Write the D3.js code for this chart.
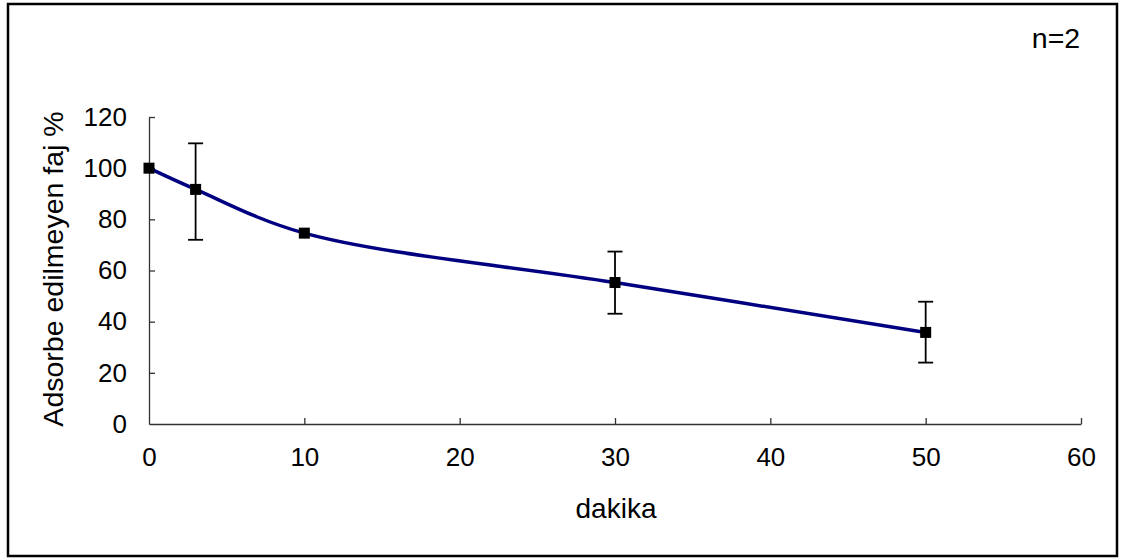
<!DOCTYPE html>
<html lang="tr">
<head>
<meta charset="UTF-8" />
<title>Adsorbe edilmeyen faj</title>
<style>
  body { margin: 0; background: #fff; }
  svg { display: block; font-family: 'Liberation Sans', Arial, sans-serif; }
  .tick text { font-size: 26px; fill: #000; }
</style>
</head>
<body>
<svg id="chart" width="1121" height="559"></svg>
<script src="https://cdn.jsdelivr.net/npm/d3@7/dist/d3.min.js"></script>
<script>
  // dakika (minutes) vs. % non-adsorbed phage, n=2
  const minutes = [0, 3, 10, 30, 50];
  const percent = [100, 91.7, 74.6, 55.3, 35.8];
  const errLow  = [null, 72, null, 43.1, 24];
  const errHigh = [null, 109.7, null, 67.4, 47.8];
  const xTicks = [0, 10, 20, 30, 40, 50, 60];
  const yTicks = [0, 20, 40, 60, 80, 100, 120];

  const svg = d3.select("#chart");

  // outer frame
  svg.append("rect")
    .attr("x", 8).attr("y", 4)
    .attr("width", 1109).attr("height", 552)
    .attr("fill", "#fff")
    .attr("stroke", "#000")
    .attr("stroke-width", 2.5);

  const x = d3.scaleLinear().domain([0, 60]).range([149, 1081]);
  const y = d3.scaleLinear().domain([0, 120]).range([424, 117]);

  const xAxis = svg.append("g")
    .attr("transform", `translate(0,${y(0)})`)
    .call(d3.axisBottom(x).tickValues(xTicks).tickSizeInner(-6).tickSizeOuter(0).tickPadding(24));
  const yAxis = svg.append("g")
    .attr("transform", `translate(${x(0)},0)`)
    .call(d3.axisLeft(y).tickValues(yTicks).tickSizeInner(-6).tickSizeOuter(0).tickPadding(22));

  [xAxis, yAxis].forEach(g => {
    g.select(".domain").attr("stroke", "#333").attr("stroke-width", 1.3);
    g.selectAll(".tick line").attr("stroke", "#333").attr("stroke-width", 1.3);
    g.selectAll(".tick text").attr("font-size", 26).attr("font-family", null);
  });
  xAxis.selectAll(".tick text").attr("dy", "0.71em");
  // drop the zero ticks that sit on the other axis
  xAxis.selectAll(".tick line").filter(d => d === 0).remove();
  yAxis.selectAll(".tick line").filter(d => d === 0).remove();

  const pts = minutes.map((m, i) => ({ m, p: percent[i], lo: errLow[i], hi: errHigh[i] }));

  // smoothed line
  svg.append("path")
    .datum(pts)
    .attr("fill", "none")
    .attr("stroke", "#000080")
    .attr("stroke-width", 3.5)
    .attr("d", d3.line().x(d => x(d.m)).y(d => y(d.p)).curve(d3.curveCatmullRom.alpha(0.5)));

  // error bars
  const eb = svg.append("g").attr("stroke", "#000").attr("stroke-width", 1.8);
  pts.filter(d => d.lo != null).forEach(d => {
    eb.append("line").attr("x1", x(d.m)).attr("x2", x(d.m)).attr("y1", y(d.lo)).attr("y2", y(d.hi));
    eb.append("line").attr("x1", x(d.m) - 7.5).attr("x2", x(d.m) + 7.5).attr("y1", y(d.lo)).attr("y2", y(d.lo));
    eb.append("line").attr("x1", x(d.m) - 7.5).attr("x2", x(d.m) + 7.5).attr("y1", y(d.hi)).attr("y2", y(d.hi));
  });

  // markers
  svg.append("g").selectAll("rect").data(pts).join("rect")
    .attr("x", d => x(d.m) - 5.5)
    .attr("y", d => y(d.p) - 5.5)
    .attr("width", 11).attr("height", 11)
    .attr("fill", "#000");

  // labels
  svg.append("text")
    .attr("x", (x(0) + x(60)) / 2 + 1)
    .attr("y", 518)
    .attr("text-anchor", "middle")
    .attr("font-size", 28)
    .text("dakika");

  svg.append("text")
    .attr("transform", `translate(63,269) rotate(-90)`)
    .attr("text-anchor", "middle")
    .attr("font-size", 28.5)
    .text("Adsorbe edilmeyen faj %");

  svg.append("text")
    .attr("x", 1056)
    .attr("y", 48)
    .attr("text-anchor", "middle")
    .attr("font-size", 28.5)
    .text("n=2");
</script>
</body>
</html>
